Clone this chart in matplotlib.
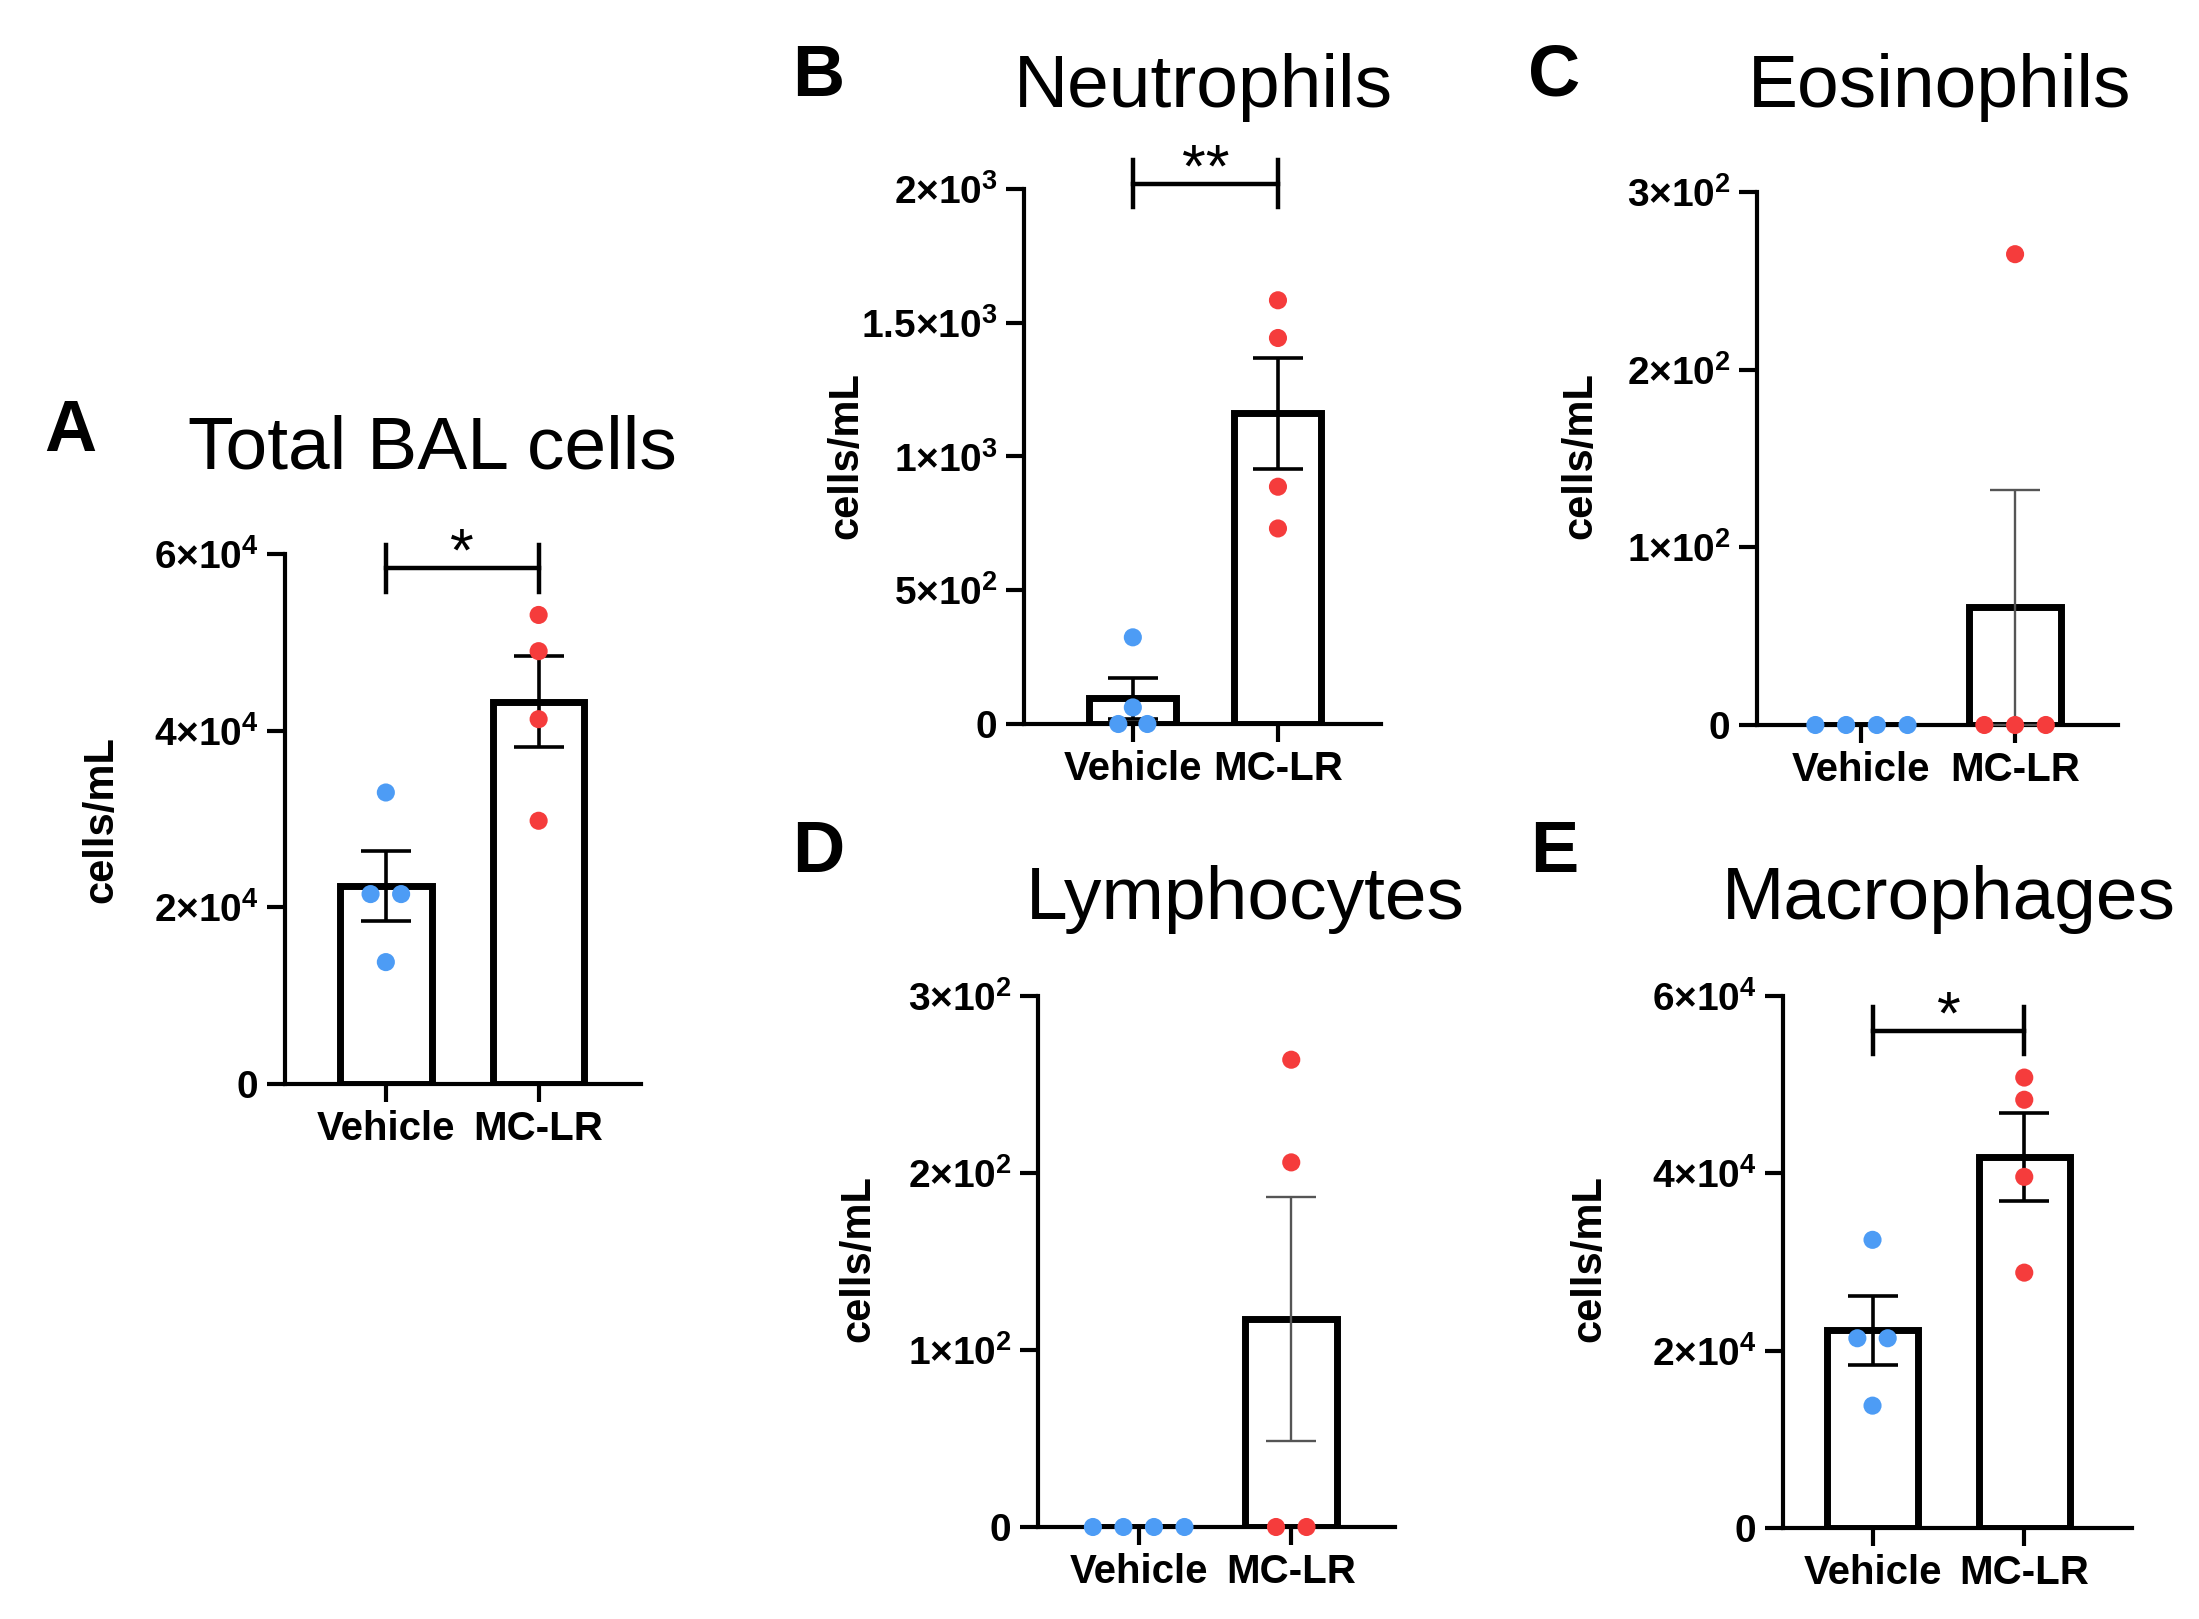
import numpy as np
import matplotlib
matplotlib.use('Agg')
import matplotlib.pyplot as plt

plt.rcParams['font.family'] = ['Liberation Sans', 'DejaVu Sans']
plt.rcParams['mathtext.fontset'] = 'custom'
plt.rcParams['mathtext.rm'] = 'Liberation Sans:bold'
plt.rcParams['mathtext.it'] = 'Liberation Sans:bold:italic'
plt.rcParams['mathtext.bf'] = 'Liberation Sans:bold'

# data (cells/mL, one value per animal)
groups = ['Vehicle', 'MC-LR']
total_veh = [3.30e4, 2.15e4, 2.15e4, 1.38e4]
total_mclr = [5.31e4, 4.90e4, 4.13e4, 2.98e4]
neut_veh = [324, 62, 0, 0]
neut_mclr = [1584, 1443, 887, 731]
eos_veh = [0, 0, 0, 0]
eos_mclr = [265, 0, 0, 0]
lymph_veh = [0, 0, 0, 0]
lymph_mclr = [264, 206, 0, 0]
mac_veh = [3.25e4, 2.14e4, 2.14e4, 1.38e4]
mac_mclr = [5.08e4, 4.83e4, 3.96e4, 2.88e4]

titles = ['Total BAL cells', 'Neutrophils', 'Eosinophils', 'Lymphocytes', 'Macrophages']
letters = ['A', 'B', 'C', 'D', 'E']

ticks_e4 = [0, 2e4, 4e4, 6e4]
labels_e4 = ['0', '2×10$^4$', '4×10$^4$', '6×10$^4$']
ticks_neut = [0, 500, 1000, 1500, 2000]
labels_neut = ['0', '5×10$^2$', '1×10$^3$', '1.5×10$^3$', '2×10$^3$']
ticks_e2 = [0, 100, 200, 300]
labels_e2 = ['0', '1×10$^2$', '2×10$^2$', '3×10$^2$']

signif = ['*', '**', None, None, '*']

W, H = 2199, 1619
fig = plt.figure(figsize=(W / 100, H / 100), dpi=100)

def fx(x):
    return x / W

def fy(y):
    return 1 - y / H

blue = '#4d9cf5'
red = '#f53c3c'

# (spine x, top y, right x, zero y, xlim left, xlim right) in pixels
panels = [
    (285, 554, 641, 1084, -0.66, 1.67),
    (1024, 189, 1381, 724, -0.75, 1.71),
    (1757, 192, 2118, 725, -0.68, 1.67),
    (1038, 996, 1395, 1527, -0.66, 1.68),
    (1783, 996, 2132, 1528, -0.59, 1.71),
]
data = [(total_veh, total_mclr), (neut_veh, neut_mclr), (eos_veh, eos_mclr),
        (lymph_veh, lymph_mclr), (mac_veh, mac_mclr)]
yticks = [(ticks_e4, labels_e4), (ticks_neut, labels_neut), (ticks_e2, labels_e2),
          (ticks_e2, labels_e2), (ticks_e4, labels_e4)]
err_col = ['black', 'black', '#555555', '#555555', 'black']
err_lw = [2.6, 2.6, 1.7, 1.7, 2.6]
title_pos = [(432, 449), (1203, 87), (1940, 87), (1245, 899), (1949, 899)]
letter_pos = [(70, 432), (818, 77), (1554, 77), (818, 853), (1554, 853)]
ylab_pos = [(101, 820), (846, 456), (1580, 456), (858, 1259), (1589, 1259)]


def swarm(vals, step=0.2):
    vals = np.asarray(vals, dtype=float)
    off = np.zeros(len(vals))
    for v in np.unique(vals):
        idx = np.where(vals == v)[0]
        n = len(idx)
        off[idx] = (np.arange(n) - (n - 1) / 2) * step
    return off


for i, (sx, ty, rx, zy, xl, xr) in enumerate(panels):
    ax = fig.add_axes([fx(sx), fy(zy), (rx - sx) / W, (zy - ty) / H])
    ticks, labs = yticks[i]
    ax.set_ylim(0, ticks[-1])
    ax.set_xlim(xl, xr)

    for j, vals in enumerate(data[i]):
        vals = np.asarray(vals, dtype=float)
        m = vals.mean()
        sem = vals.std(ddof=1) / np.sqrt(len(vals))
        ax.bar(j, m, width=0.6, color='white', edgecolor='black', linewidth=5, zorder=2)
        if sem > 0:
            ax.errorbar(j, m, yerr=sem, color=err_col[i], lw=err_lw[i], capsize=18,
                        capthick=err_lw[i], zorder=3)
        ax.scatter(j + swarm(vals), vals, s=170, color=[blue, red][j], edgecolor='none',
                   zorder=4, clip_on=False)

    if signif[i]:
        top = ticks[-1]
        yl = {0: 0.973, 1: 1.01, 4: 0.935}[i] * top
        h = 0.044 * top
        ax.plot([0, 1], [yl, yl], color='black', lw=3.2, clip_on=False)
        ax.plot([0, 0], [yl - h, yl + h], color='black', lw=3.2, clip_on=False)
        ax.plot([1, 1], [yl - h, yl + h], color='black', lw=3.2, clip_on=False)
        ax.text(0.5, yl - 0.005 * top, signif[i], ha='center', va='baseline',
                fontsize=44, clip_on=False)

    ax.set_yticks(ticks)
    ax.set_yticklabels(labs, fontsize=28, fontweight='bold')
    ax.set_xticks([0, 1])
    ax.set_xticklabels(groups, fontsize=29, fontweight='bold')
    ax.tick_params(axis='both', direction='out', length=13, width=3, pad=6)
    for s in ['top', 'right']:
        ax.spines[s].set_visible(False)
    for s in ['left', 'bottom']:
        ax.spines[s].set_linewidth(3)

    fig.text(fx(title_pos[i][0]), fy(title_pos[i][1]), titles[i], ha='center', va='center',
             fontsize=54)
    fig.text(fx(letter_pos[i][0]), fy(letter_pos[i][1]), letters[i], ha='center', va='center',
             fontsize=52, fontweight='bold')
    fig.text(fx(ylab_pos[i][0]), fy(ylab_pos[i][1]), 'cells/mL', ha='center', va='center',
             rotation=90, fontsize=30, fontweight='bold')

fig.savefig('out.png', dpi=100, facecolor='white')
